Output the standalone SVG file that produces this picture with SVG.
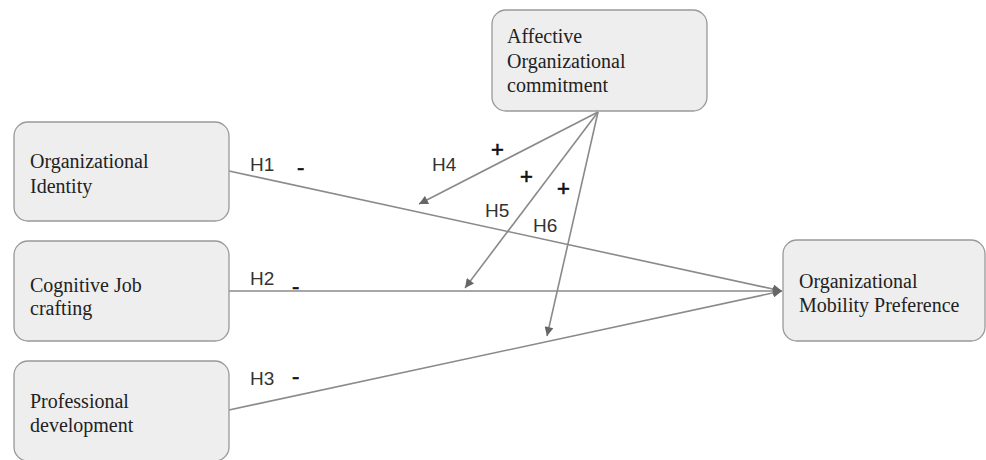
<svg xmlns="http://www.w3.org/2000/svg" width="986" height="460" viewBox="0 0 986 460">
<style>
.box{fill:#eeeeee;stroke:#999999;stroke-width:1.3}
.nt{font-family:"Liberation Serif","Times New Roman",serif;font-size:20px;fill:#222}
.lab{font-family:"Liberation Sans",Arial,sans-serif;font-size:19px;fill:#333}
.sgn{font-family:"Liberation Sans",Arial,sans-serif;font-size:22px;fill:#111;stroke:#111;stroke-width:0.6}
.ln{stroke:#8a8a8a;stroke-width:1.6;fill:none}
</style>
<defs>
<marker id="ah" viewBox="0 0 10 10" refX="10" refY="5" markerWidth="11" markerHeight="9" markerUnits="userSpaceOnUse" orient="auto">
<path d="M0,0 L10,5 L0,10 z" fill="#666666"/>
</marker>
</defs>
<rect width="986" height="460" fill="#ffffff"/>
<g id="connectors">
<line class="ln" x1="229" y1="171" x2="782" y2="291" marker-end="url(#ah)"/>
<line class="ln" x1="229" y1="291" x2="782" y2="291" marker-end="url(#ah)"/>
<line class="ln" x1="229" y1="410" x2="782" y2="291" marker-end="url(#ah)"/>
<line class="ln" x1="598" y1="112" x2="419" y2="204" marker-end="url(#ah)"/>
<line class="ln" x1="598" y1="112" x2="465" y2="288" marker-end="url(#ah)"/>
<line class="ln" x1="598" y1="112" x2="547" y2="336" marker-end="url(#ah)"/>
<text class="lab" x="250" y="171">H1</text>
<text class="sgn" x="297" y="175">-</text>
<text class="lab" x="250" y="285">H2</text>
<text class="sgn" x="292" y="294">-</text>
<text class="lab" x="250" y="385">H3</text>
<text class="sgn" x="292" y="384">-</text>
<text class="lab" x="432" y="171">H4</text>
<text class="lab" x="485" y="217">H5</text>
<text class="lab" x="533" y="232">H6</text>
<text class="sgn" x="491" y="157">+</text>
<text class="sgn" x="520" y="184">+</text>
<text class="sgn" x="557" y="196">+</text>
</g>
<g id="affective">
<rect class="box" x="492" y="10" width="215" height="101" rx="14"/>
<text class="nt" x="507" y="43">Affective</text>
<text class="nt" x="507" y="68">Organizational</text>
<text class="nt" x="507" y="92">commitment</text>
</g>
<g id="identity">
<rect class="box" x="14" y="122" width="215" height="99" rx="14"/>
<text class="nt" x="30" y="168">Organizational</text>
<text class="nt" x="30" y="193">Identity</text>
</g>
<g id="cognitive">
<rect class="box" x="14" y="241" width="215" height="100" rx="14"/>
<text class="nt" x="30" y="292">Cognitive Job</text>
<text class="nt" x="30" y="315">crafting</text>
</g>
<g id="professional">
<rect class="box" x="14" y="361" width="215" height="100" rx="14"/>
<text class="nt" x="30" y="408">Professional</text>
<text class="nt" x="30" y="432">development</text>
</g>
<g id="mobility">
<rect class="box" x="783" y="240" width="202" height="101" rx="14"/>
<text class="nt" x="799" y="288">Organizational</text>
<text class="nt" x="799" y="312">Mobility Preference</text>
</g>
</svg>
